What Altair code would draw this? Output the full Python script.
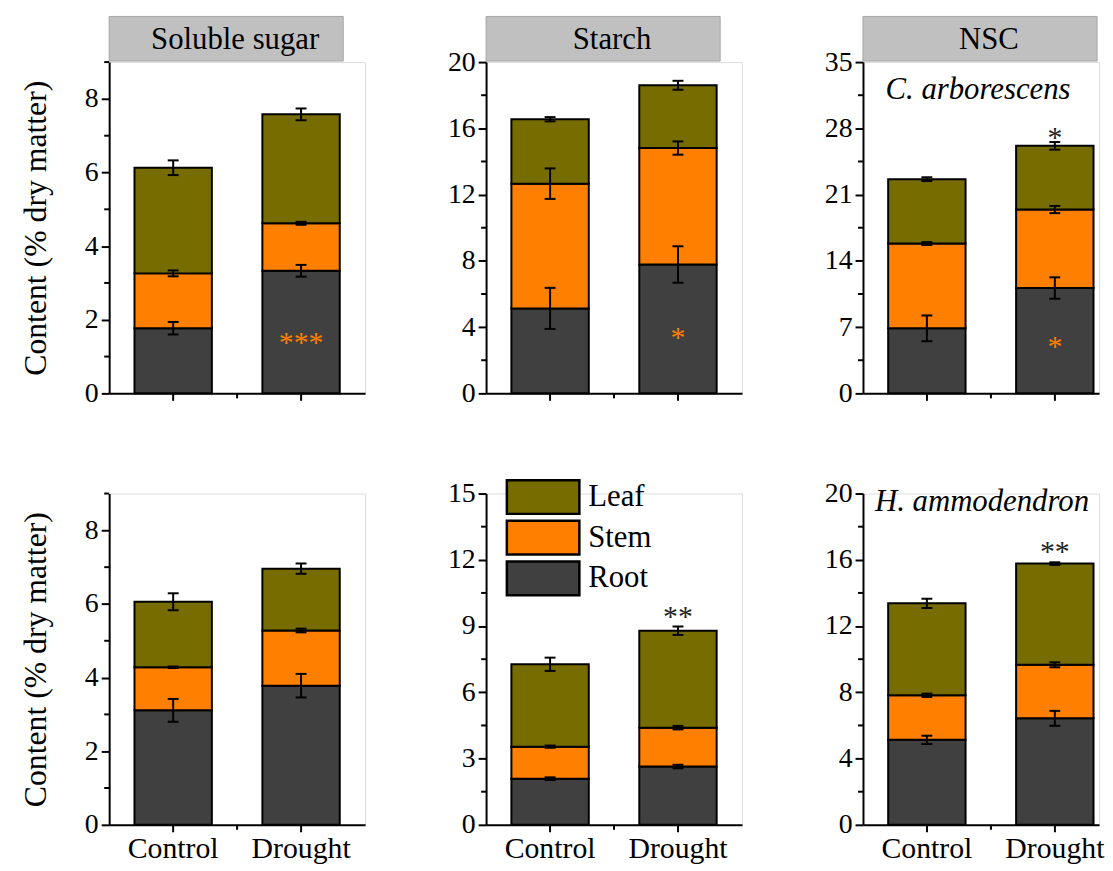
import altair as alt
import pandas as pd

FONT = "'Liberation Serif', 'Times New Roman', Times, serif"

treatments = ["Control", "Drought"]
organs = ["Root", "Stem", "Leaf"]
organ_colors = ["#404040", "#ff7f00", "#776c00"]
legend_order = ["Leaf", "Stem", "Root"]

panel_titles = ["Soluble sugar", "Starch", "NSC", "", "", ""]
species_labels = ["", "", "C. arborescens", "", "", "H. ammodendron"]

# segment contents per panel: [Control, Drought]
root_vals = [[1.77, 3.33], [5.13, 7.78], [6.87, 11.13], [3.11, 3.78], [2.09, 2.64], [5.13, 6.43]]
stem_vals = [[1.49, 1.29], [7.53, 7.03], [8.96, 8.29], [1.17, 1.50], [1.45, 1.76], [2.69, 3.23]]
leaf_vals = [[2.87, 2.96], [3.89, 3.79], [6.80, 6.73], [1.78, 1.68], [3.73, 4.39], [5.55, 6.11]]
root_err = [[0.17, 0.16], [1.24, 1.10], [1.36, 1.13], [0.31, 0.32], [0.06, 0.08], [0.25, 0.45]]
stem_err = [[0.08, 0.04], [0.92, 0.40], [0.15, 0.38], [0.02, 0.05], [0.05, 0.08], [0.10, 0.15]]
leaf_err = [[0.20, 0.16], [0.13, 0.27], [0.20, 0.40], [0.23, 0.14], [0.30, 0.19], [0.28, 0.08]]

y_max = [9, 20, 35, 9, 15, 20]
y_step = [2, 4, 7, 2, 3, 4]

# significance marks (all on Drought bars)
sig_panel = [0, 1, 2, 2, 4, 5]
sig_value = [1.55, 3.75, 5.65, 27.7, 9.7, 16.9]
sig_text = ["***", "*", "*", "*", "**", "**"]
sig_color = ["#ff7f00", "#ff7f00", "#ff7f00", "#222222", "#222222", "#222222"]

W, W_RIGHT, H = 258, 238, 334


def make_panel(i):
    rows = []
    for t_idx, t in enumerate(treatments):
        base = 0.0
        for organ, vals, errs in zip(organs, [root_vals, stem_vals, leaf_vals],
                                     [root_err, stem_err, leaf_err]):
            v = vals[i][t_idx]
            e = errs[i][t_idx]
            rows.append(dict(treatment=t, organ=organ, base=base, top=base + v,
                             lo=base + v - e, hi=base + v + e))
            base += v
    df = pd.DataFrame(rows)
    bottom = i >= 3
    right = i % 3 == 2
    step = y_step[i]
    ymax = y_max[i]
    majors = [k * step for k in range(int(ymax / step) + 1)]
    minors = [m + step / 2 for m in majors if m + step / 2 <= ymax]

    if right:
        xscale = alt.Scale(domain=treatments, paddingInner=0.395, paddingOuter=0.12, align=0.82)
        width = W_RIGHT
    else:
        xscale = alt.Scale(domain=treatments, paddingInner=0.395, paddingOuter=0.198)
        width = W
    xaxis = alt.Axis(title=None, labels=bottom, labelAngle=0, labelFont=FONT,
                     labelFontSize=30, labelColor="black", labelPadding=2,
                     tickSize=7, tickWidth=2, tickColor="black",
                     domainColor="black", domainWidth=2, grid=False)
    X = alt.X("treatment:N", scale=xscale, axis=xaxis, sort=treatments)
    yscale = alt.Scale(domain=[0, ymax], nice=False, zero=True)
    ytitle = "Content (% dry matter)" if i % 3 == 0 else None
    yaxis = alt.Axis(values=majors, title=ytitle, titleFont=FONT, titleFontSize=32,
                     titleFontWeight="normal", titleColor="black", titlePadding=32,
                     labelFont=FONT, labelFontSize=28, labelColor="black",
                     labelPadding=3, tickSize=8, tickWidth=2, tickColor="black",
                     domainColor="black", domainWidth=2, grid=False)

    if i == 4:
        legend = alt.Legend(orient="none", legendX=39, legendY=-15, title=None,
                            values=legend_order,
                            symbolType="M-2.15,-1H2.15V1H-2.15Z", symbolSize=1156,
                            symbolStrokeColor="black", symbolStrokeWidth=2.5,
                            symbolOpacity=1,
                            labelFont=FONT, labelFontSize=31, labelColor="black",
                            rowPadding=-5, padding=0, labelOffset=27)
    else:
        legend = None

    base_chart = alt.Chart(df)
    bars = base_chart.mark_bar(stroke="black", strokeWidth=2, opacity=1).encode(
        x=X,
        y=alt.Y("top:Q", scale=yscale, axis=yaxis),
        y2="base:Q",
        color=alt.Color("organ:N", scale=alt.Scale(domain=organs, range=organ_colors),
                        legend=legend),
    )
    err = base_chart.mark_rule(color="black", strokeWidth=2).encode(
        x=X, y=alt.Y("lo:Q", scale=yscale, axis=yaxis), y2="hi:Q")
    cap_lo = base_chart.mark_tick(color="black", thickness=2, size=11, opacity=1).encode(
        x=X, y=alt.Y("lo:Q", scale=yscale, axis=yaxis))
    cap_hi = base_chart.mark_tick(color="black", thickness=2, size=11, opacity=1).encode(
        x=X, y=alt.Y("hi:Q", scale=yscale, axis=yaxis))

    minor_y = alt.Chart(pd.DataFrame({"v": minors})).mark_rule(
        color="black", strokeWidth=2).encode(
        y=alt.Y("v:Q", scale=yscale, axis=yaxis), x=alt.value(0), x2=alt.value(-5))
    minor_x = alt.Chart(pd.DataFrame({"a": [0]})).mark_rule(
        color="black", strokeWidth=2).encode(
        x=alt.value(129), y=alt.value(H), y2=alt.value(H + 5))

    layers = [bars, err, cap_lo, cap_hi, minor_y, minor_x]

    for p, v, t, c in zip(sig_panel, sig_value, sig_text, sig_color):
        if p == i:
            sdf = pd.DataFrame({"treatment": ["Drought"], "v": [v], "t": [t]})
            layers.append(alt.Chart(sdf).mark_text(
                font=FONT, fontSize=30, color=c, baseline="middle", dy=7).encode(
                x=X, y=alt.Y("v:Q", scale=yscale, axis=yaxis), text="t:N"))

    if panel_titles[i]:
        tdf = pd.DataFrame({"t": [panel_titles[i]]})
        layers.append(alt.Chart(tdf).mark_rect(
            fill="#c0c0c0", stroke="#a6a6a6", strokeWidth=1).encode(
            x=alt.value(0), x2=alt.value(236), y=alt.value(-46), y2=alt.value(-1)))
        layers.append(alt.Chart(tdf).mark_text(
            font=FONT, fontSize=31, color="black", baseline="middle", align="center").encode(
            x=alt.value(127), y=alt.value(-22), text="t:N"))

    if species_labels[i]:
        sdf = pd.DataFrame({"t": [species_labels[i]]})
        yy = 37 if i == 2 else 18
        xx = 116 if i == 2 else 120
        layers.append(alt.Chart(sdf).mark_text(
            font=FONT, fontSize=31, fontStyle="italic", color="black",
            baseline="alphabetic", align="center").encode(
            x=alt.value(xx), y=alt.value(yy), text="t:N"))

    return alt.layer(*layers).properties(width=width, height=H)


panels = [make_panel(i) for i in range(6)]

top_row = alt.hconcat(*panels[:3], spacing=81).resolve_scale(
    color="independent", x="independent", y="independent")
bottom_row = alt.hconcat(*panels[3:], spacing=81).resolve_scale(
    color="independent", x="independent", y="independent")

chart = alt.vconcat(top_row, bottom_row, spacing=70).resolve_scale(
    color="independent", x="independent", y="independent"
).properties(
    padding={"left": 11, "top": 4, "right": 0, "bottom": 0},
    background="white",
).configure_view(stroke=None).configure(font=FONT)

chart.save("out.html", embed_options={"renderer": "svg", "actions": False})
